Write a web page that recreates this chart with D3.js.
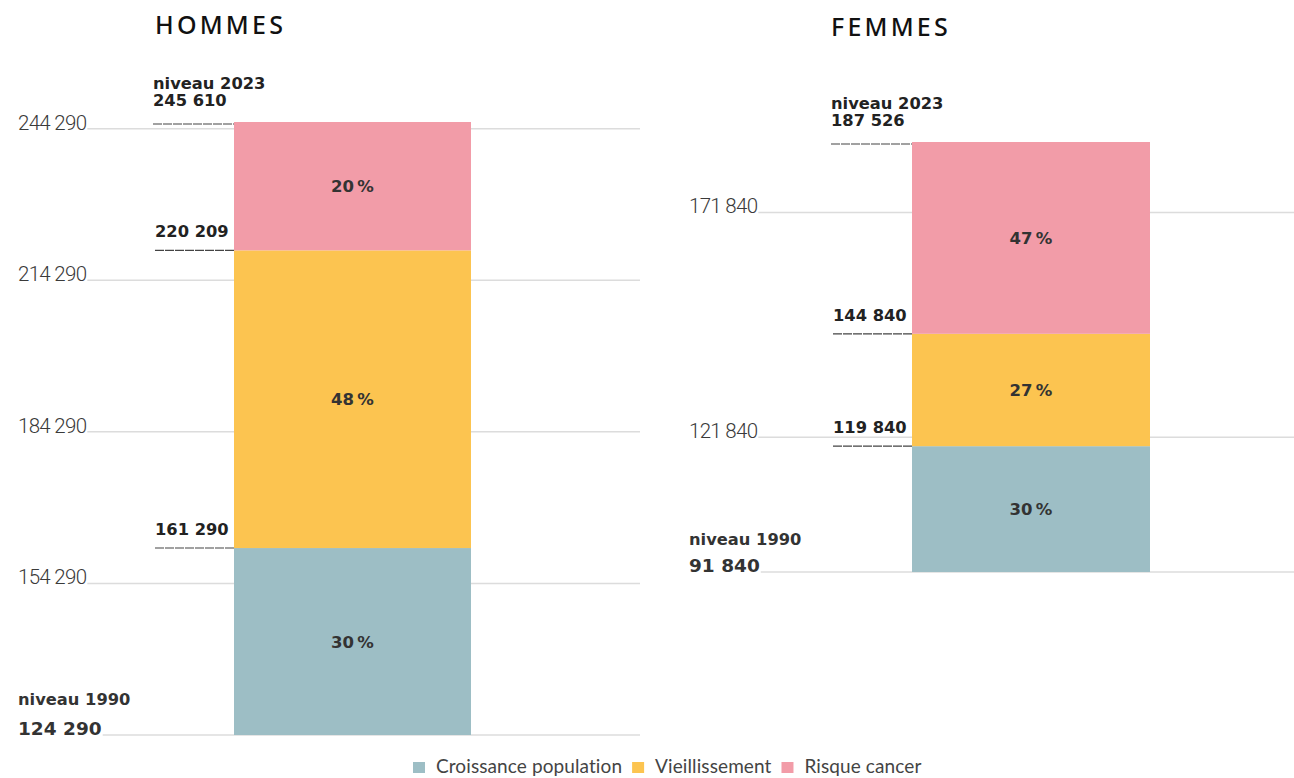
<!DOCTYPE html>
<html><head><meta charset="utf-8">
<script src="https://cdn.jsdelivr.net/npm/d3@7"></script>
<style>
html,body{margin:0;padding:0;background:#fff;}
svg{display:block;}
</style></head>
<body>
<svg id="chart" width="1294" height="778"></svg>
<script>
// ---- data ----
const panels = ["HOMMES", "FEMMES"];
const level1990 = [124290, 91840];
const afterCroissance = [161290, 119840];
const afterVieillissement = [220209, 144840];
const level2023 = [245610, 187526];
const pctCroissance = [30, 30];
const pctVieillissement = [48, 27];
const pctRisque = [20, 47];
const ticksHommes = [154290, 184290, 214290, 244290];
const ticksFemmes = [121840, 171840];
const seriesNames = ["Croissance population", "Vieillissement", "Risque cancer"];
const seriesColors = ["#9dbec5", "#fcc450", "#f29ca8"];

// ---- layout ----
const svg = d3.select("#chart");
const fr = d3.formatLocale({decimal: ",", thousands: " ", grouping: [3], currency: ["", " €"]});
const fmt = fr.format(",");
const pctFmt = p => p + "\u202F%";

const layout = [
  {title: {x: 155, y: 34}, tickX: 18, gridEnd: 640, barX: 234, barW: 237, annX: 155,
   range: [735, 122], ticks: ticksHommes, bottomGap: 30},
  {title: {x: 831, y: 36}, tickX: 689, gridEnd: 1294, barX: 912, barW: 238, annX: 833,
   range: [572, 142], ticks: ticksFemmes, bottomGap: 27}
];

const tickFont = "Roboto, sans-serif";
const boldFont = "'DejaVu Sans', sans-serif";

panels.forEach((name, i) => {
  const L = layout[i];
  const y = d3.scaleLinear().domain([level1990[i], level2023[i]]).range(L.range);
  const g = svg.append("g");

  // title
  g.append("text").attr("x", L.title.x).attr("y", L.title.y)
    .attr("font-family", "'Noto Sans', sans-serif").attr("font-size", 25).attr("font-weight", 500)
    .attr("letter-spacing", 3.2).attr("fill", "#111").text(name);

  // gridlines with tick labels sitting on them
  const gridG = g.append("g");
  L.ticks.forEach(t => {
    const tx = gridG.append("text").attr("x", L.tickX).attr("y", y(t) + 1)
      .attr("font-family", tickFont).attr("font-weight", 300).attr("font-size", 20.5)
      .attr("letter-spacing", -0.7).attr("fill", "#3a3a3a").text(fmt(t));
    const w = tx.node().getComputedTextLength();
    gridG.insert("line", "text").attr("x1", L.tickX + w + 1).attr("x2", L.gridEnd)
      .attr("y1", y(t)).attr("y2", y(t)).attr("stroke", "#dcdcdc").attr("stroke-width", 1.5);
  });

  // bottom level (1990)
  const b0 = y(level1990[i]);
  g.append("text").attr("x", L.tickX).attr("y", b0 - L.bottomGap)
    .attr("font-family", boldFont).attr("font-weight", 600).attr("font-size", 16.3)
    .attr("fill", "#333").text("niveau 1990");
  const bt = g.append("text").attr("x", L.tickX).attr("y", b0)
    .attr("font-family", boldFont).attr("font-weight", 700).attr("font-size", 18.5)
    .attr("fill", "#333").text(fmt(level1990[i]));
  const bw = bt.node().getComputedTextLength();
  gridG.append("line").attr("x1", L.tickX + bw + 1).attr("x2", L.gridEnd)
    .attr("y1", b0).attr("y2", b0).attr("stroke", "#dcdcdc").attr("stroke-width", 1.5);

  // stacked segments
  const segs = [
    {from: level1990[i], to: afterCroissance[i], pct: pctCroissance[i], c: seriesColors[0]},
    {from: afterCroissance[i], to: afterVieillissement[i], pct: pctVieillissement[i], c: seriesColors[1]},
    {from: afterVieillissement[i], to: level2023[i], pct: pctRisque[i], c: seriesColors[2]}
  ];
  g.selectAll("rect.seg").data(segs).join("rect").attr("class", "seg")
    .attr("x", L.barX).attr("width", L.barW)
    .attr("y", d => y(d.to)).attr("height", d => y(d.from) - y(d.to))
    .attr("fill", d => d.c);
  g.selectAll("text.pct").data(segs).join("text").attr("class", "pct")
    .attr("x", L.barX + L.barW / 2).attr("y", d => (y(d.from) + y(d.to)) / 2 + 6)
    .attr("text-anchor", "middle").attr("font-family", boldFont).attr("font-weight", 700)
    .attr("font-size", 16.5).attr("letter-spacing", -0.5).attr("fill", "#333")
    .text(d => pctFmt(d.pct));

  // annotations at segment boundaries
  const anns = [afterCroissance[i], afterVieillissement[i]];
  anns.forEach(v => {
    g.append("text").attr("x", L.annX).attr("y", y(v) - 13)
      .attr("font-family", boldFont).attr("font-weight", 700).attr("font-size", 16.3)
      .attr("fill", "#222").attr("stroke", "#fff").attr("stroke-width", 4)
      .attr("paint-order", "stroke").attr("stroke-linejoin", "round").text(fmt(v));
    g.append("line").attr("x1", L.annX).attr("x2", L.barX).attr("y1", y(v)).attr("y2", y(v))
      .attr("stroke", "#444").attr("stroke-width", 1.1).attr("stroke-dasharray", "9,1");
  });

  // top level (2023)
  const tY = y(level2023[i]);
  g.append("text").attr("x", L.annX - 2).attr("y", tY - 33)
    .attr("font-family", boldFont).attr("font-weight", 700).attr("font-size", 16.3)
    .attr("fill", "#222").text("niveau 2023");
  g.append("text").attr("x", L.annX - 2).attr("y", tY - 16)
    .attr("font-family", boldFont).attr("font-weight", 700).attr("font-size", 16.3)
    .attr("fill", "#222").text(fmt(level2023[i]));
  g.append("line").attr("x1", L.annX - 2).attr("x2", L.barX).attr("y1", tY + 2).attr("y2", tY + 2)
    .attr("stroke", "#444").attr("stroke-width", 1.1).attr("stroke-dasharray", "9,1");
});

// ---- legend ----
const leg = svg.append("g");
let lx = 0;
seriesNames.forEach((n, k) => {
  const it = leg.append("g").attr("transform", `translate(${lx},0)`);
  it.append("rect").attr("x", 0).attr("y", 762).attr("width", 12).attr("height", 11).attr("fill", seriesColors[k]);
  const t = it.append("text").attr("x", 23).attr("y", 773)
    .attr("font-family", "Lato, sans-serif").attr("font-size", 19).attr("letter-spacing", 0.1)
    .attr("fill", "#444").text(n);
  lx += 23 + t.node().getComputedTextLength() + 10;
});
leg.attr("transform", `translate(413,0)`);
</script>
</body></html>
